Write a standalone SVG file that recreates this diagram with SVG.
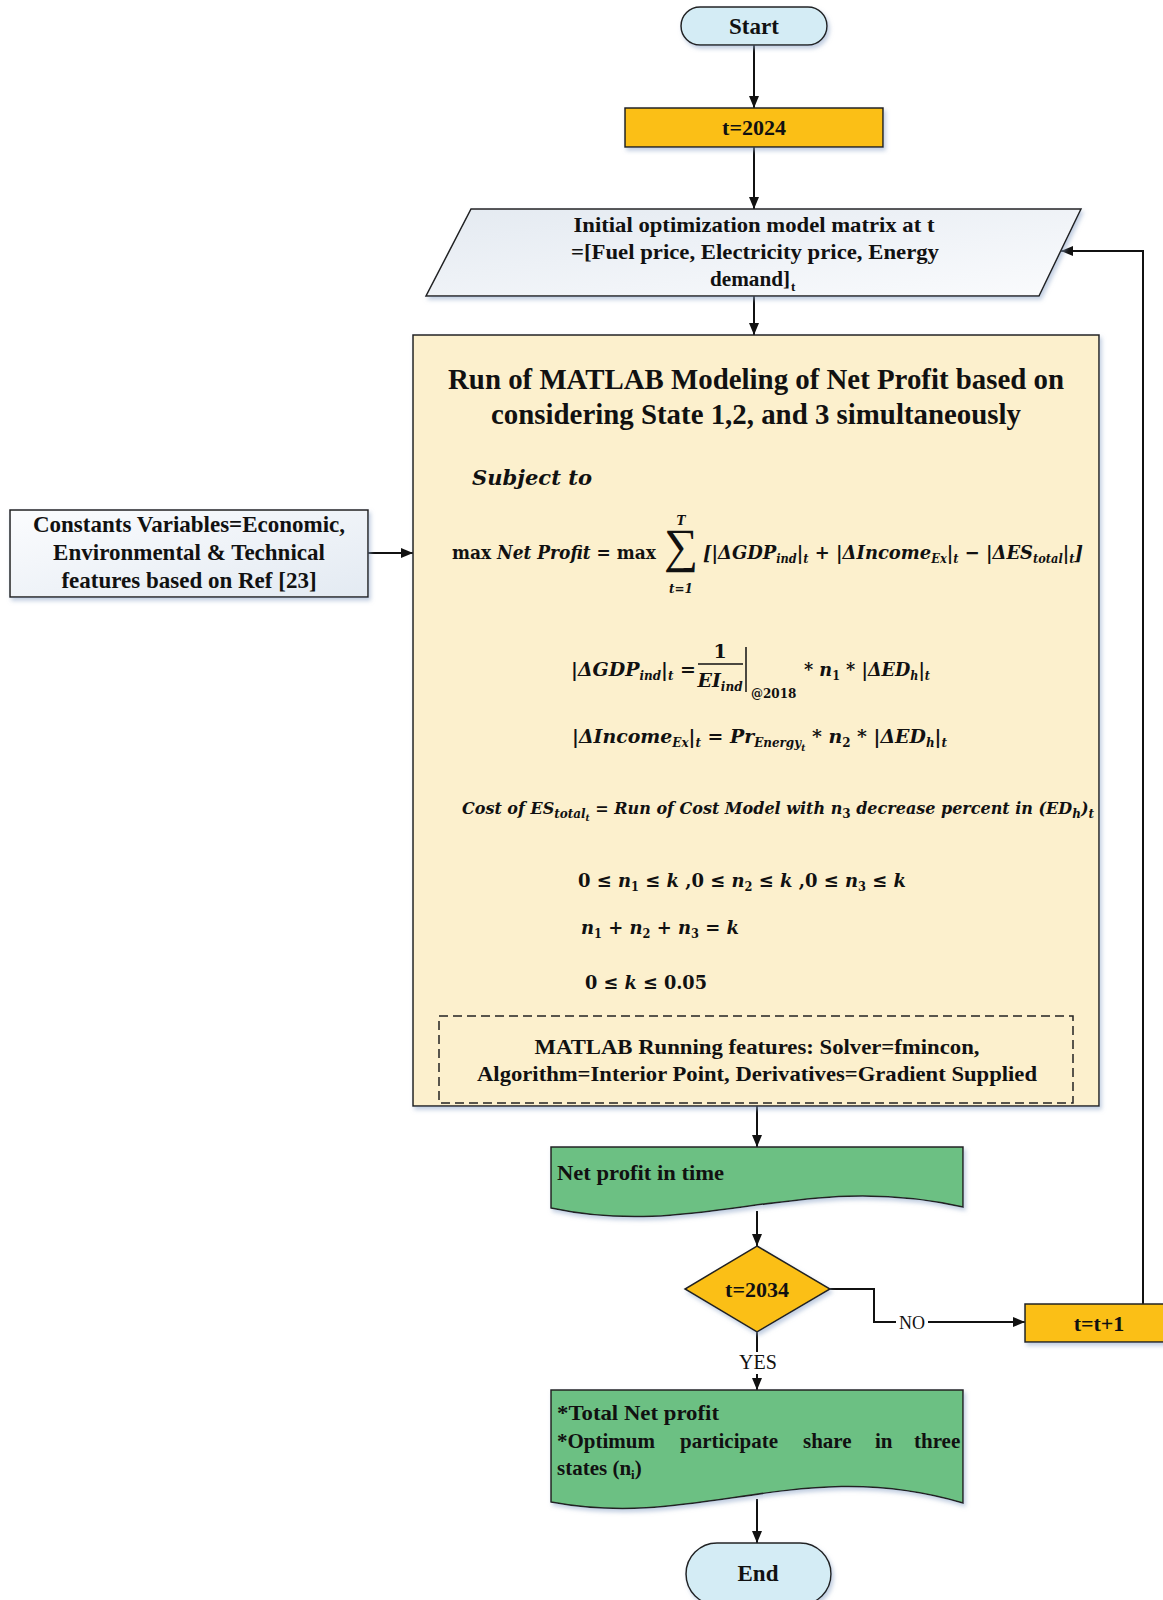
<svg xmlns="http://www.w3.org/2000/svg" width="1163" height="1600" viewBox="0 0 1163 1600">
<defs>
<style>
.b{font-family:"Liberation Serif","Times New Roman",serif;font-weight:bold;fill:#111;}
.n{font-family:"Liberation Serif","Times New Roman",serif;fill:#111;}
.m{font-family:"DejaVu Serif","Liberation Serif",serif;font-weight:bold;font-style:italic;fill:#111;}
.u{font-style:normal}
.s{font-size:12px}
.ss{font-size:9px}
.sh{stroke:#222;stroke-width:1.5;filter:url(#shadow);}
.c{stroke:#111;stroke-width:2;fill:none;}
.ar{marker-end:url(#arrow);}
</style>
<marker id="arrow" viewBox="0 0 12 10" refX="12" refY="5" markerWidth="12" markerHeight="10" markerUnits="userSpaceOnUse" orient="auto">
<path d="M0,0 L12,5 L0,10 Z" fill="#111"/>
</marker>
<filter id="shadow" x="-5%" y="-5%" width="115%" height="125%">
<feDropShadow dx="2" dy="3" stdDeviation="2" flood-color="#8fa6c8" flood-opacity="0.55"/>
</filter>
<linearGradient id="gpar" x1="0" y1="0" x2="1" y2="1">
<stop offset="0" stop-color="#e4eaf1"/>
<stop offset="1" stop-color="#fafbfd"/>
</linearGradient>
<linearGradient id="gleft" x1="0" y1="0" x2="1" y2="1">
<stop offset="0" stop-color="#fbfcfe"/>
<stop offset="1" stop-color="#e3eaf2"/>
</linearGradient>
</defs>
<rect width="1163" height="1600" fill="#ffffff"/>

<g id="connectors">
<line class="c ar" x1="754" y1="45" x2="754" y2="108"/>
<line class="c ar" x1="754" y1="147" x2="754" y2="209"/>
<line class="c ar" x1="754" y1="296" x2="754" y2="335"/>
<line class="c ar" x1="368" y1="553" x2="413" y2="553"/>
<line class="c ar" x1="757" y1="1106" x2="757" y2="1147"/>
<line class="c ar" x1="757" y1="1211" x2="757" y2="1246"/>
<polyline class="c ar" points="830,1289 874,1289 874,1322 1025,1322"/>
<polyline class="c ar" points="1143,1304 1143,251 1061,251"/>
<line class="c ar" x1="757" y1="1332" x2="757" y2="1390"/>
<line class="c ar" x1="757" y1="1499" x2="757" y2="1543"/>
<rect x="896" y="1312" width="32" height="20" fill="#fff"/>
<text class="n" x="912" y="1329" font-size="18" text-anchor="middle">NO</text>
<rect x="736" y="1352" width="44" height="22" fill="#fff"/>
<text class="n" x="758" y="1369" font-size="20" text-anchor="middle">YES</text>
</g>

<g id="start">
<rect class="sh" x="681" y="7" width="146" height="38" rx="19" fill="#d4ecf5"/>
<text class="b" x="754" y="34" font-size="23" text-anchor="middle">Start</text>
</g>

<g id="t2024">
<rect class="sh" x="625" y="108" width="258" height="39" fill="#fbbf14"/>
<text class="b" x="754" y="135" font-size="22" text-anchor="middle">t=2024</text>
</g>

<g id="input">
<polygon class="sh" points="471,209 1081,209 1039,296 426,296" fill="url(#gpar)"/>
<text class="b" x="754" y="232" font-size="22" text-anchor="middle" textLength="361" lengthAdjust="spacingAndGlyphs">Initial optimization model matrix at t</text>
<text class="b" x="755" y="259" font-size="22" text-anchor="middle" textLength="368" lengthAdjust="spacingAndGlyphs">=[Fuel price, Electricity price, Energy</text>
<text class="b" x="710" y="286" font-size="22" textLength="80" lengthAdjust="spacingAndGlyphs">demand]</text>
<text class="b" x="791" y="291" font-size="13">t</text>
</g>

<g id="constants">
<rect class="sh" x="10" y="510" width="358" height="87" fill="url(#gleft)"/>
<text class="b" x="189" y="532" font-size="23" text-anchor="middle">Constants Variables=Economic,</text>
<text class="b" x="189" y="560" font-size="23" text-anchor="middle">Environmental &amp; Technical</text>
<text class="b" x="189" y="588" font-size="23" text-anchor="middle">features based on Ref [23]</text>
</g>

<g id="model">
<rect class="sh" x="413" y="335" width="686" height="771" fill="#fcf0cd"/>
<text class="b" x="756" y="389" font-size="30" text-anchor="middle" textLength="616" lengthAdjust="spacingAndGlyphs">Run of MATLAB Modeling of Net Profit based on</text>
<text class="b" x="756" y="424" font-size="30" text-anchor="middle" textLength="530" lengthAdjust="spacingAndGlyphs">considering State 1,2, and 3 simultaneously</text>
<text class="m" x="472" y="485" font-size="21" textLength="120" lengthAdjust="spacingAndGlyphs">Subject to</text>

<text class="m" x="452" y="559" font-size="19" textLength="204" lengthAdjust="spacingAndGlyphs"><tspan class="u">max </tspan>Net Profit <tspan class="u"> = max</tspan></text>
<text class="n" x="681" y="562" font-size="48" text-anchor="middle" font-family="DejaVu Serif">∑</text>
<text class="m" x="681" y="525" font-size="12" text-anchor="middle">T</text>
<text class="m" x="681" y="593" font-size="12" text-anchor="middle">t=1</text>
<text class="m" x="703" y="559" font-size="19" textLength="380" lengthAdjust="spacingAndGlyphs">[|ΔGDP<tspan class="s" dy="4">ind</tspan><tspan dy="-4">|</tspan><tspan class="s" dy="4">t</tspan><tspan dy="-4"> + |ΔIncome</tspan><tspan class="s" dy="4">Ex</tspan><tspan dy="-4">|</tspan><tspan class="s" dy="4">t</tspan><tspan dy="-4"> − |ΔES</tspan><tspan class="s" dy="4">total</tspan><tspan dy="-4">|</tspan><tspan class="s" dy="4">t</tspan><tspan dy="-4">]</tspan></text>

<text class="m" x="571" y="676" font-size="19" textLength="125" lengthAdjust="spacingAndGlyphs">|ΔGDP<tspan class="s" dy="4">ind</tspan><tspan dy="-4">|</tspan><tspan class="s" dy="4">t</tspan><tspan class="u" dy="-4"> =</tspan></text>
<text class="m u" x="720" y="658" font-size="19" text-anchor="middle">1</text>
<line x1="698" y1="664" x2="743" y2="664" stroke="#111" stroke-width="1.5"/>
<text class="m" x="720" y="687" font-size="19" text-anchor="middle">EI<tspan class="s" dy="4">ind</tspan></text>
<line x1="746" y1="647" x2="746" y2="692" stroke="#111" stroke-width="1.5"/>
<text class="m u" x="751" y="698" font-size="12">@2018</text>
<text class="m" x="804" y="676" font-size="19" textLength="126" lengthAdjust="spacingAndGlyphs"><tspan class="u">* </tspan>n<tspan class="s u" dy="4">1</tspan><tspan class="u" dy="-4"> * </tspan>|ΔED<tspan class="s" dy="4">h</tspan><tspan dy="-4">|</tspan><tspan class="s" dy="4">t</tspan></text>

<text class="m" x="572" y="743" font-size="19" textLength="375" lengthAdjust="spacingAndGlyphs">|ΔIncome<tspan class="s" dy="4">Ex</tspan><tspan dy="-4">|</tspan><tspan class="s" dy="4">t</tspan><tspan class="u" dy="-4"> = </tspan>Pr<tspan class="s" dy="4">Energy</tspan><tspan class="ss" dy="4">t</tspan><tspan class="u" dy="-8"> * </tspan>n<tspan class="s u" dy="4">2</tspan><tspan class="u" dy="-4"> * </tspan>|ΔED<tspan class="s" dy="4">h</tspan><tspan dy="-4">|</tspan><tspan class="s" dy="4">t</tspan></text>

<text class="m" x="462" y="814" font-size="16" textLength="632" lengthAdjust="spacingAndGlyphs">Cost of ES<tspan class="s" dy="4">total</tspan><tspan class="ss" dy="3">t</tspan><tspan class="u" dy="-7"> = </tspan>Run of Cost Model with n<tspan class="s u" dy="4">3</tspan><tspan dy="-4"> decrease percent in (ED</tspan><tspan class="s" dy="4">h</tspan><tspan dy="-4">)</tspan><tspan class="s" dy="4">t</tspan></text>

<text class="m" x="578" y="887" font-size="19" textLength="328" lengthAdjust="spacingAndGlyphs"><tspan class="u">0 ≤ </tspan>n<tspan class="s u" dy="4">1</tspan><tspan class="u" dy="-4"> ≤ </tspan>k<tspan class="u"> ,0 ≤ </tspan>n<tspan class="s u" dy="4">2</tspan><tspan class="u" dy="-4"> ≤ </tspan>k<tspan class="u"> ,0 ≤ </tspan>n<tspan class="s u" dy="4">3</tspan><tspan class="u" dy="-4"> ≤ </tspan>k</text>
<text class="m" x="581" y="934" font-size="19" textLength="158" lengthAdjust="spacingAndGlyphs">n<tspan class="s u" dy="4">1</tspan><tspan class="u" dy="-4"> + </tspan>n<tspan class="s u" dy="4">2</tspan><tspan class="u" dy="-4"> + </tspan>n<tspan class="s u" dy="4">3</tspan><tspan class="u" dy="-4"> = </tspan>k</text>
<text class="m" x="585" y="989" font-size="19" textLength="122" lengthAdjust="spacingAndGlyphs"><tspan class="u">0 ≤ </tspan>k<tspan class="u"> ≤ 0.05</tspan></text>

<rect x="439" y="1016" width="634" height="87" fill="none" stroke="#222" stroke-width="1.5" stroke-dasharray="9,5"/>
<text class="b" x="757" y="1054" font-size="21" text-anchor="middle" textLength="445" lengthAdjust="spacingAndGlyphs">MATLAB Running features: Solver=fmincon,</text>
<text class="b" x="757" y="1081" font-size="21" text-anchor="middle" textLength="560" lengthAdjust="spacingAndGlyphs">Algorithm=Interior Point, Derivatives=Gradient Supplied</text>
</g>

<g id="netprofit">
<path class="sh" d="M551,1147 H963 V1207 C800,1170 700,1240 551,1208 Z" fill="#6cc083"/>
<text class="b" x="557" y="1180" font-size="21" textLength="167" lengthAdjust="spacingAndGlyphs">Net profit in time</text>
</g>

<g id="decision">
<polygon class="sh" points="757,1246 830,1289 757,1332 685,1289" fill="#fbbf14"/>
<text class="b" x="757" y="1297" font-size="22" text-anchor="middle">t=2034</text>
</g>

<g id="increment">
<rect class="sh" x="1025" y="1304" width="150" height="38" fill="#fbbf14"/>
<text class="b" x="1099" y="1331" font-size="22" text-anchor="middle">t=t+1</text>
</g>

<g id="result">
<path class="sh" d="M551,1390 H963 V1503 C800,1455 700,1530 551,1502 Z" fill="#6cc083"/>
<text class="b" x="557" y="1420" font-size="21" textLength="162" lengthAdjust="spacingAndGlyphs">*Total Net profit</text>
<text class="b" font-size="21" y="1448"><tspan x="557">*Optimum</tspan><tspan x="680">participate</tspan><tspan x="803">share</tspan><tspan x="875">in</tspan><tspan x="914">three</tspan></text>
<text class="b" x="557" y="1475" font-size="21">states (n<tspan font-size="13" dy="4">i</tspan><tspan dy="-4">)</tspan></text>
</g>

<g id="end">
<rect class="sh" x="686" y="1543" width="145" height="62" rx="31" fill="#d4ecf5"/>
<text class="b" x="758" y="1581" font-size="23" text-anchor="middle">End</text>
</g>
</svg>
